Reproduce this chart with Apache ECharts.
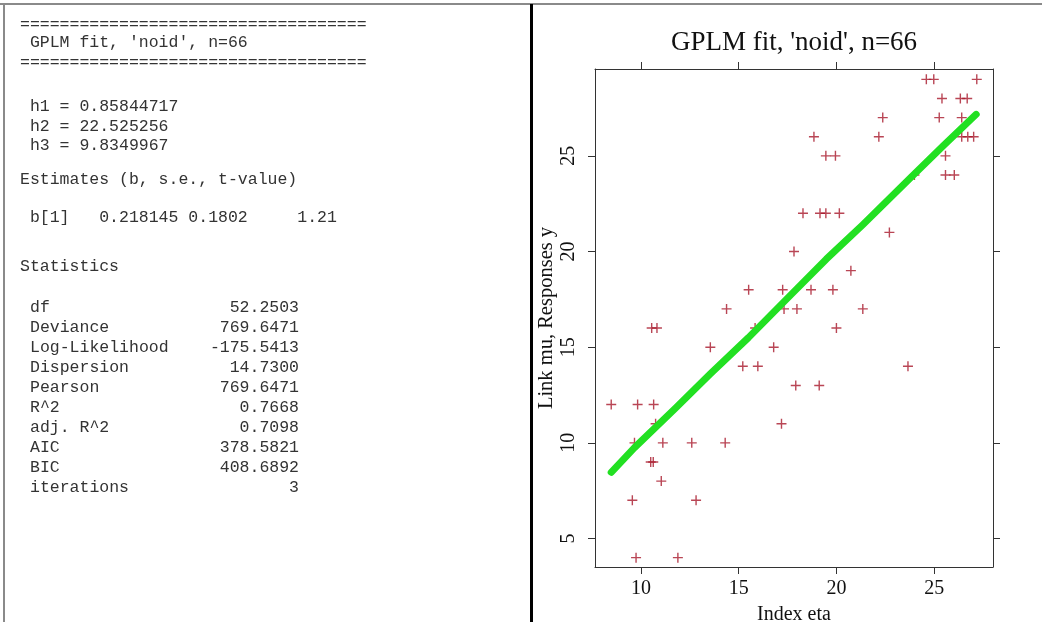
<!DOCTYPE html>
<html>
<head>
<meta charset="utf-8">
<script src="https://cdn.jsdelivr.net/npm/echarts@6/dist/echarts.min.js"></script>
<style>
  html, body { margin: 0; padding: 0; background: #fff; }
  #main { width: 1042px; height: 622px; }
</style>
</head>
<body>
<div id="main"></div>
<script>
// scatter: index eta vs response y
var ptEta = [24.60, 24.98, 27.18,
  25.40, 26.34, 26.69,
  22.37, 25.26, 26.41,
  18.85, 22.17, 26.41, 26.72, 27.02,
  19.46, 19.95, 25.58,
  23.99, 25.58, 26.03,
  18.29, 19.16, 19.46, 20.15,
  22.71,
  17.83,
  20.74,
  15.51, 17.25, 18.70, 19.82,
  14.38, 17.32, 17.98, 21.35,
  10.55, 10.82, 15.84, 20.00,
  13.55, 16.79,
  15.21, 15.98, 23.66,
  17.92, 19.12,
  8.48, 9.83, 10.65,
  10.75, 17.19,
  9.67, 11.12, 12.60, 14.31,
  10.50, 10.63,
  11.04,
  9.56, 12.82,
  9.75, 11.89];
var ptY = [29, 29, 29,
  28, 28, 28,
  27, 27, 27,
  26, 26, 26, 26, 26,
  25, 25, 25,
  24, 24, 24,
  22, 22, 22, 22,
  21,
  20,
  19,
  18, 18, 18, 18,
  17, 17, 17, 17,
  16, 16, 16, 16,
  15, 15,
  14, 14, 14,
  13, 13,
  12, 12, 12,
  11, 11,
  10, 10, 10, 10,
  9, 9,
  8,
  7, 7,
  4, 4];

// fitted link mu (green curve)
var lineEta = [8.48, 9.67, 11.75, 13.54, 15.50, 17.78, 19.48, 21.35, 23.74, 25.44, 27.15];
var lineMu  = [8.46, 9.75, 11.80, 13.60, 15.50, 17.85, 19.60, 21.40, 23.80, 25.50, 27.17];

var xTicks = [10, 15, 20, 25];
var yTicks = [5, 10, 15, 20, 25];

// text panel
var hNames = ['h1', 'h2', 'h3'];
var hValues = ['0.85844717', '22.525256', '9.8349967'];
var coefLine = ' b[1]   0.218145 0.1802     1.21';
var statNames = ['df', 'Deviance', 'Log-Likelihood', 'Dispersion', 'Pearson', 'R^2', 'adj. R^2', 'AIC', 'BIC', 'iterations'];
var statValues = ['52.2503', '769.6471', '-175.5413', '14.7300', '769.6471', '0.7668', '0.7098', '378.5821', '408.6892', '3'];

var pts = ptEta.map(function (e, i) { return [e, ptY[i]]; });
var fit = lineEta.map(function (e, i) { return [e, lineMu[i]]; });

var mono = {fontFamily: 'Liberation Mono', fontSize: 16.5, fill: '#333'};
function txt(x, y, s, align) {
    return {type: 'text', x: x, y: y, style: Object.assign({text: s, align: align || 'left', verticalAlign: 'middle'}, mono)};
}
var eqs = '===================================';
var panel = [
    txt(20, 25, eqs),
    txt(20, 43, " GPLM fit, 'noid', n=66"),
    txt(20, 63, eqs),
    txt(20, 180, 'Estimates (b, s.e., t-value)'),
    txt(20, 218, coefLine),
    txt(20, 267, 'Statistics')
];
hNames.forEach(function (n, i) {
    panel.push(txt(20, 107 + i * 19.5, ' ' + n + ' = ' + hValues[i]));
});
statNames.forEach(function (n, i) {
    panel.push(txt(30, 308 + i * 20, n));
    panel.push(txt(299, 308 + i * 20, statValues[i], 'right'));
});
// frame lines
panel.push({type: 'line', shape: {x1: 0, y1: 4, x2: 1042, y2: 4}, style: {stroke: '#8a8a8a', lineWidth: 2}});
panel.push({type: 'line', shape: {x1: 4, y1: 4, x2: 4, y2: 622}, style: {stroke: '#8a8a8a', lineWidth: 2}});
panel.push({type: 'line', shape: {x1: 531.5, y1: 4, x2: 531.5, y2: 622}, style: {stroke: '#000', lineWidth: 3}});

var serif = 'Liberation Serif';
var axisCol = '#333';
function xAx(pos, lab) {
    return {
        type: 'value', position: pos, min: 7.65, max: 28.01,
        splitLine: {show: false},
        axisLine: {show: true, onZero: false, lineStyle: {color: axisCol, width: 1}},
        axisTick: {show: true, length: 7, customValues: xTicks, lineStyle: {color: axisCol}},
        axisLabel: {show: lab, customValues: xTicks, fontFamily: serif, fontSize: 20, color: '#111', margin: 12},
        name: lab ? 'Index eta' : '', nameLocation: 'middle', nameGap: 38,
        nameTextStyle: {fontFamily: serif, fontSize: 20, color: '#111'}
    };
}
function yAx(pos, lab) {
    return {
        type: 'value', position: pos, min: 3.51, max: 29.54,
        splitLine: {show: false},
        axisLine: {show: true, onZero: false, lineStyle: {color: axisCol, width: 1}},
        axisTick: {show: true, length: 7, customValues: yTicks, lineStyle: {color: axisCol}},
        axisLabel: {show: lab, customValues: yTicks, rotate: 90, fontFamily: serif, fontSize: 20, color: '#111', margin: 16},
        name: lab ? 'Link mu, Responses y' : '', nameLocation: 'middle', nameGap: 38,
        nameTextStyle: {fontFamily: serif, fontSize: 20.5, color: '#111'}
    };
}

var chart = echarts.init(document.getElementById('main'));
chart.setOption({
    animation: false,
    backgroundColor: '#fff',
    title: {
        text: "GPLM fit, 'noid', n=66",
        left: 794, top: 29, textAlign: 'center', padding: 0,
        textStyle: {fontFamily: serif, fontSize: 27, fontWeight: 'normal', color: '#111'}
    },
    grid: {left: 595, top: 69, width: 398, height: 498, containLabel: false, outerBoundsMode: 'none'},
    xAxis: [xAx('bottom', true), xAx('top', false)],
    yAxis: [yAx('left', true), yAx('right', false)],
    graphic: panel,
    series: [{
        type: 'scatter',
        data: pts,
        symbol: 'path://M4.3,0H5.7V4.3H10V5.7H5.7V10H4.3V5.7H0V4.3H4.3Z',
        symbolSize: 10,
        itemStyle: {color: '#a8182a'},
        z: 2
    }, {
        type: 'line',
        data: fit,
        showSymbol: false,
        lineStyle: {color: '#22e022', width: 7, cap: 'round', join: 'round'},
        z: 3
    }]
});
</script>
</body>
</html>
